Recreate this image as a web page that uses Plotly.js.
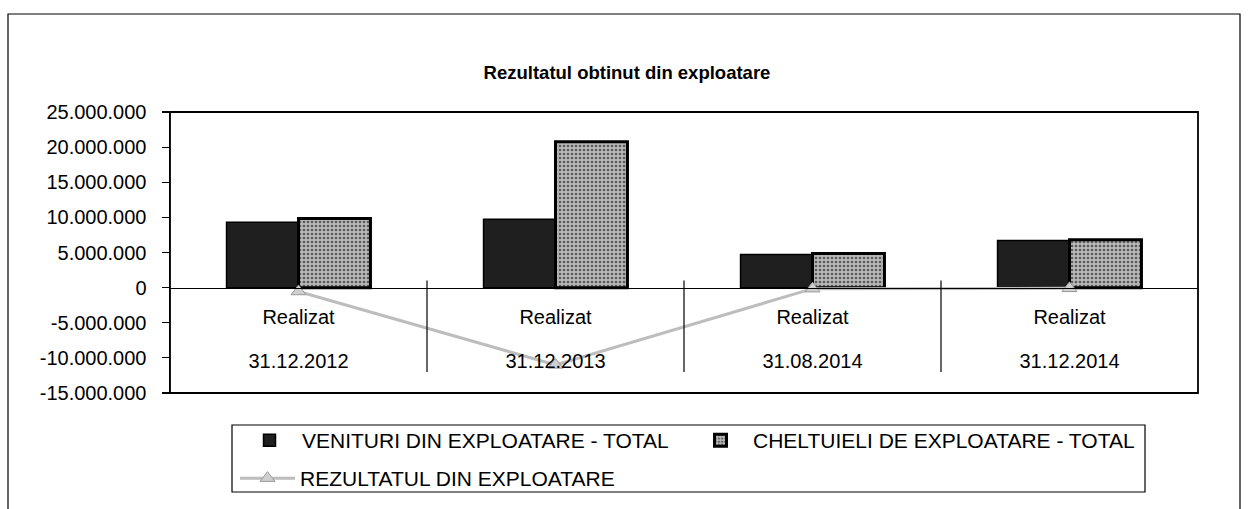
<!DOCTYPE html>
<html><head><meta charset="utf-8">
<script src="https://cdn.plot.ly/plotly-3.0.1.min.js"></script>
<style>html,body{margin:0;padding:0;background:#fff;}#chart{width:1250px;height:509px;}</style>
</head><body><div id="chart"></div>
<script>
// ---- data ----
const categoryTop = ["Realizat", "Realizat", "Realizat", "Realizat"];
const categoryDates = ["31.12.2012", "31.12.2013", "31.08.2014", "31.12.2014"];
const venituri = [9300000, 9750000, 4700000, 6700000];
const cheltuieli = [9850000, 20750000, 4850000, 6800000];
const rezultat = [-550000, -11000000, -150000, -100000];
const seriesNames = ["VENITURI DIN EXPLOATARE - TOTAL", "CHELTUIELI DE EXPLOATARE - TOTAL", "REZULTATUL DIN EXPLOATARE"];
const yTickVals = [25000000, 20000000, 15000000, 10000000, 5000000, 0, -5000000, -10000000, -15000000];
const yTickText = ["25.000.000", "20.000.000", "15.000.000", "10.000.000", "5.000.000", "0", "-5.000.000", "-10.000.000", "-15.000.000"];
const titleText = "Rezultatul obtinut din exploatare";

const idx = categoryDates.map((_, i) => i);
const yRange = [Math.min(...yTickVals), Math.max(...yTickVals)];
const zeroPos = (0 - yRange[0]) / (yRange[1] - yRange[0]);
const FONT = "Liberation Sans, Arial, sans-serif";

// plot area geometry (pixels) for placing legends / frame
const PL = 170, PR = 1198, PT = 112, PB = 393;
const px = v => (v - PL) / (PR - PL);
const py = v => (PB - v) / (PB - PT);

const traces = [
  { type: "bar", name: seriesNames[0], x: idx, y: venituri, legend: "legend",
    marker: { color: "#1f1f1f", line: { color: "#000", width: 1.5 } }, hoverinfo: "y" },
  { type: "bar", name: seriesNames[1], x: idx, y: cheltuieli, legend: "legend2",
    marker: { color: "#a4a4a4", line: { color: "#000", width: 3 },
      pattern: { shape: ".", fgcolor: "#5a5a5a", bgcolor: "#b8b8b8", size: 4, solidity: 0.35 } }, hoverinfo: "y" },
  { type: "scatter", mode: "lines+markers", name: seriesNames[2], x: idx, y: rezultat, legend: "legend3",
    line: { color: "#bdbdbd", width: 3 },
    marker: { symbol: "triangle-up", size: 13, color: "#cfcfcf", line: { color: "#9a9a9a", width: 1 } }, hoverinfo: "y" }
];
traces.push({ type: "scatter", x: idx, y: idx.map(() => null), xaxis: "x2", showlegend: false, hoverinfo: "skip" });

const dividers = idx.slice(1).map(i => ({
  type: "line", xref: "x", yref: "y", x0: i - 0.5, x1: i - 0.5, y0: -12000000, y1: 1000000,
  line: { color: "#000", width: 1.2 }
}));

const legendBase = { orientation: "h", xanchor: "left", yanchor: "top", borderwidth: 0, bgcolor: "rgba(0,0,0,0)",
  font: { family: FONT, size: 21, color: "#000" }, itemwidth: 55 };

const layout = {
  width: 1250, height: 509,
  margin: { l: PL, r: 1250 - PR, t: PT, b: 509 - PB, autoexpand: false },
  paper_bgcolor: "#fff", plot_bgcolor: "#fff",
  font: { family: FONT, color: "#000", size: 20 },
  title: { text: "<b>" + titleText + "</b>", font: { family: FONT, size: 18.5, color: "#000" },
    x: 627 / 1250, xref: "container", y: 1 - 73 / 509, yref: "container", xanchor: "center", yanchor: "middle" },
  barmode: "group", bargap: 0.44, bargroupgap: 0,
  showlegend: true,
  legend: Object.assign({}, legendBase, { x: px(237), y: py(420) }),
  legend2: Object.assign({}, legendBase, { x: px(688), y: py(420) }),
  legend3: Object.assign({}, legendBase, { x: px(235), y: py(458) }),
  xaxis: { range: [-0.5, 3.5], anchor: "free", position: zeroPos, tickvals: idx, ticktext: categoryTop,
    showline: true, linecolor: "#000", linewidth: 1.5, ticks: "", showgrid: false, zeroline: false,
    ticklabelstandoff: 11, tickfont: { family: FONT, size: 20, color: "#000" }, fixedrange: true },
  xaxis2: { range: [-0.5, 3.5], overlaying: "x", anchor: "free", position: zeroPos, tickvals: idx, ticktext: categoryDates,
    showline: false, ticks: "", showgrid: false, zeroline: false, side: "bottom",
    ticklabelstandoff: 59, tickfont: { family: FONT, size: 20, color: "#000" }, fixedrange: true },
  yaxis: { range: yRange, tickvals: yTickVals, ticktext: yTickText, ticks: "outside", ticklen: 7,
    tickcolor: "#000", tickwidth: 1.2, showline: true, linecolor: "#000", linewidth: 1.5,
    showgrid: false, zeroline: false, ticklabelstandoff: 11,
    tickfont: { family: FONT, size: 20, color: "#000" }, fixedrange: true },
  shapes: [
    { type: "rect", xref: "paper", yref: "paper", x0: 0, x1: 1, y0: 0, y1: 1, line: { color: "#000", width: 1.8 } },
    { type: "rect", xref: "paper", yref: "paper", x0: px(8), x1: px(1240), y0: py(530), y1: py(14),
      line: { color: "#000", width: 1.2 } },
    { type: "rect", xref: "paper", yref: "paper", x0: px(232), x1: px(1145), y0: py(492), y1: py(425),
      line: { color: "#000", width: 1.2 } }
  ].concat(dividers)
};

Plotly.newPlot("chart", traces, layout, { displayModeBar: false, staticPlot: true });
</script></body></html>
